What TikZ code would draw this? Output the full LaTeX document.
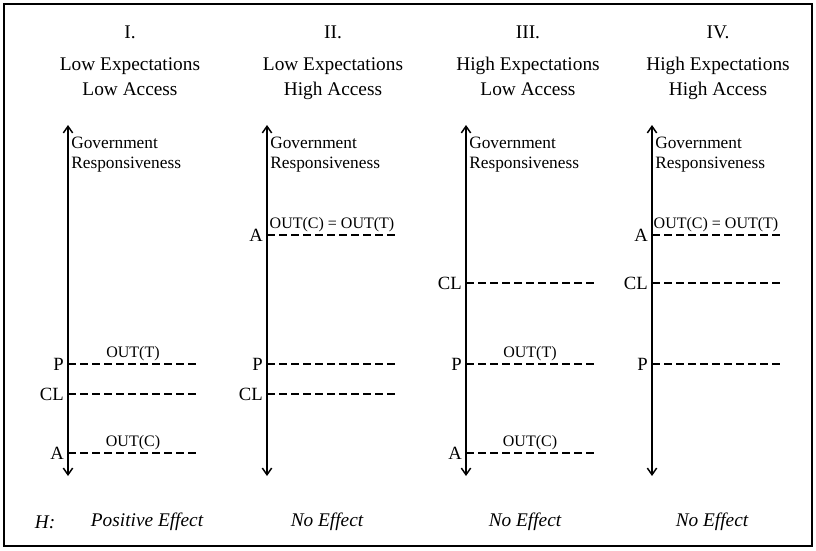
\documentclass[tikz,border=0pt]{standalone}
\usepackage{fontspec}
\setmainfont{Liberation Serif}
\usetikzlibrary{arrows.meta, positioning}

\tikzset{
  axis/.style={line width=1.1pt, {Straight Barb[length=5pt,width=7pt]}-{Straight Barb[length=5pt,width=7pt]}},
  level/.style={line width=0.9pt, dash pattern=on 6pt off 3pt},
  numeral/.style={font=\fontsize{14.5}{17}\selectfont},
  casetext/.style={font=\fontsize{14.5}{19}\selectfont, align=center},
  axistext/.style={font=\fontsize{13}{14.5}\selectfont, align=left, anchor=north west, inner sep=0pt},
  ticklab/.style={font=\fontsize{14}{16}\selectfont, inner sep=2pt},
  outlab/.style={font=\fontsize{12}{14}\selectfont, inner sep=2pt},
  effect/.style={font=\fontsize{14.5}{17}\selectfont\itshape}
}

\begin{document}
\begin{tikzpicture}[x=0.75pt, y=-0.75pt]
	\useasboundingbox (0,0) rectangle (816,550);

	% Frame
	\draw[line width=0.8pt] (4,4) rectangle (812,546);

	% Column headings
	\node[numeral] (n1) at (130,32) {I.};
	\node[casetext, below=7pt of n1] (c1) {Low Expectations\\Low Access};
	\node[numeral] (n2) at (333,32) {II.};
	\node[casetext, below=7pt of n2] (c2) {Low Expectations\\High Access};
	\node[numeral] (n3) at (528,32) {III.};
	\node[casetext, below=7pt of n3] (c3) {High Expectations\\Low Access};
	\node[numeral] (n4) at (718,32) {IV.};
	\node[casetext, below=7pt of n4] (c4) {High Expectations\\High Access};

	% Case I
	\coordinate (top1) at (68,125);
	\coordinate (bot1) at (68,476);
	\draw[axis] (bot1) -- (top1);
	\node[axistext] (g1) at (71,137) {Government\\Responsiveness};
	\coordinate (p1) at (68,364);  \coordinate (p1e) at (198,364);
	\coordinate (cl1) at (68,394); \coordinate (cl1e) at (198,394);
	\coordinate (a1) at (68,453);  \coordinate (a1e) at (198,453);
	\draw[level] (p1) -- (p1e) node[outlab, midway, above] (ot1) {OUT(T)};
	\draw[level] (cl1) -- (cl1e);
	\draw[level] (a1) -- (a1e) node[outlab, midway, above] (oc1) {OUT(C)};
	\node[ticklab, left=1pt of p1] (pl1) {P};
	\node[ticklab, left=1pt of cl1] (cll1) {CL};
	\node[ticklab, left=1pt of a1] (al1) {A};

	% Case II
	\coordinate (top2) at (267,125);
	\coordinate (bot2) at (267,476);
	\draw[axis] (bot2) -- (top2);
	\node[axistext] (g2) at (270,137) {Government\\Responsiveness};
	\coordinate (a2) at (267,235);  \coordinate (a2e) at (397,235);
	\coordinate (p2) at (267,364);  \coordinate (p2e) at (397,364);
	\coordinate (cl2) at (267,394); \coordinate (cl2e) at (397,394);
	\draw[level] (a2) -- (a2e) node[outlab, midway, above] (oe2) {OUT(C) = OUT(T)};
	\draw[level] (p2) -- (p2e);
	\draw[level] (cl2) -- (cl2e);
	\node[ticklab, left=1pt of a2] (al2) {A};
	\node[ticklab, left=1pt of p2] (pl2) {P};
	\node[ticklab, left=1pt of cl2] (cll2) {CL};

	% Case III
	\coordinate (top3) at (466,125);
	\coordinate (bot3) at (466,476);
	\draw[axis] (bot3) -- (top3);
	\node[axistext] (g3) at (469,137) {Government\\Responsiveness};
	\coordinate (cl3) at (466,283); \coordinate (cl3e) at (594,283);
	\coordinate (p3) at (466,364);  \coordinate (p3e) at (594,364);
	\coordinate (a3) at (466,453);  \coordinate (a3e) at (594,453);
	\draw[level] (cl3) -- (cl3e);
	\draw[level] (p3) -- (p3e) node[outlab, midway, above] (ot3) {OUT(T)};
	\draw[level] (a3) -- (a3e) node[outlab, midway, above] (oc3) {OUT(C)};
	\node[ticklab, left=1pt of cl3] (cll3) {CL};
	\node[ticklab, left=1pt of p3] (pl3) {P};
	\node[ticklab, left=1pt of a3] (al3) {A};

	% Case IV
	\coordinate (top4) at (652,125);
	\coordinate (bot4) at (652,476);
	\draw[axis] (bot4) -- (top4);
	\node[axistext] (g4) at (655,137) {Government\\Responsiveness};
	\coordinate (a4) at (652,235);  \coordinate (a4e) at (780,235);
	\coordinate (cl4) at (652,283); \coordinate (cl4e) at (780,283);
	\coordinate (p4) at (652,364);  \coordinate (p4e) at (780,364);
	\draw[level] (a4) -- (a4e) node[outlab, midway, above] (oe4) {OUT(C) = OUT(T)};
	\draw[level] (cl4) -- (cl4e);
	\draw[level] (p4) -- (p4e);
	\node[ticklab, left=1pt of a4] (al4) {A};
	\node[ticklab, left=1pt of cl4] (cll4) {CL};
	\node[ticklab, left=1pt of p4] (pl4) {P};

	% Hypotheses
	\node[effect] (h) at (45,522) {H:};
	\node[effect] (e1) at (147,522) {Positive Effect};
	\node[effect] (e2) at (327,522) {No Effect};
	\node[effect] (e3) at (525,522) {No Effect};
	\node[effect] (e4) at (712,522) {No Effect};

\end{tikzpicture}
\end{document}
